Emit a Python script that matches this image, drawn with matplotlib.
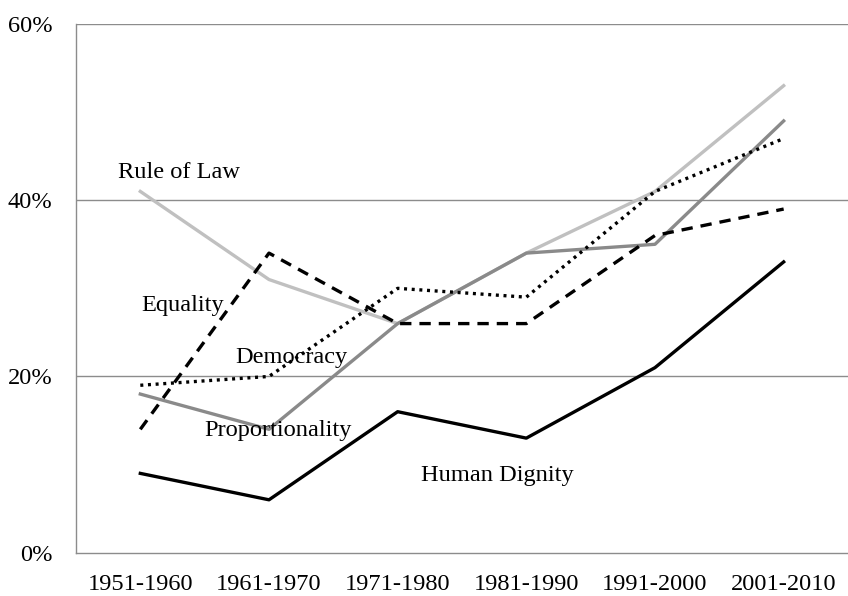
import matplotlib
matplotlib.use("Agg")
import matplotlib.pyplot as plt

# ---------- Data ----------
decades = ["1951-1960", "1961-1970", "1971-1980", "1981-1990", "1991-2000", "2001-2010"]
rule_of_law     = [41, 31, 26, 34, 41, 53]
equality        = [14, 34, 26, 26, 36, 39]
democracy       = [19, 20, 30, 29, 41, 47]
proportionality = [18, 14, 26, 34, 35, 49]
human_dignity   = [9, 6, 16, 13, 21, 33]

plt.rcParams['font.family'] = ['Liberation Serif', 'DejaVu Serif']

fig = plt.figure(figsize=(8.48, 5.96), dpi=100)
ax = fig.add_axes([0.0896, 0.0727, 0.9104, 0.887])

x = range(len(decades))
lw = 2.4
ax.plot(x, rule_of_law, color="#c0c0c0", lw=lw)
ax.plot(x, proportionality, color="#8a8a8a", lw=lw)
ax.plot(x, democracy, color="black", lw=lw, linestyle=(0, (0.9, 1.4)))
ax.plot(x, equality, color="black", lw=lw, linestyle=(0, (3.4, 2.4)))
ax.plot(x, human_dignity, color="black", lw=lw)

# series labels
fs = 17.6
ax.text(-0.17, 43.1, "Rule of Law", fontsize=fs, va="center", ha="left")
ax.text(0.005, 28.0, "Equality", fontsize=fs, va="center", ha="left")
ax.text(0.735, 22.1, "Democracy", fontsize=fs, va="center", ha="left")
ax.text(0.495, 13.9, "Proportionality", fontsize=fs, va="center", ha="left")
ax.text(2.18, 8.8, "Human Dignity", fontsize=fs, va="center", ha="left")

# ---------- Axes ----------
ax.set_xlim(-0.5, 5.5)
ax.set_ylim(0, 60)
ax.set_yticks([0, 20, 40, 60])
ax.set_yticklabels(["0%", "20%", "40%", "60%"])
ax.set_xticks(list(x))
ax.set_xticklabels(decades)
ax.tick_params(axis="both", length=0, labelsize=fs)
ax.tick_params(axis="y", pad=17)
ax.tick_params(axis="x", pad=15)

for y in [20, 40, 60]:
    ax.axhline(y, color="#8c8c8c", lw=1.0, zorder=0)

ax.spines["top"].set_visible(False)
ax.spines["right"].set_visible(False)
ax.spines["left"].set_color("#8c8c8c")
ax.spines["bottom"].set_color("#8c8c8c")
ax.spines["left"].set_linewidth(1.0)
ax.spines["bottom"].set_linewidth(1.0)
ax.patch.set_alpha(0)

fig.savefig("out.png", dpi=100)
